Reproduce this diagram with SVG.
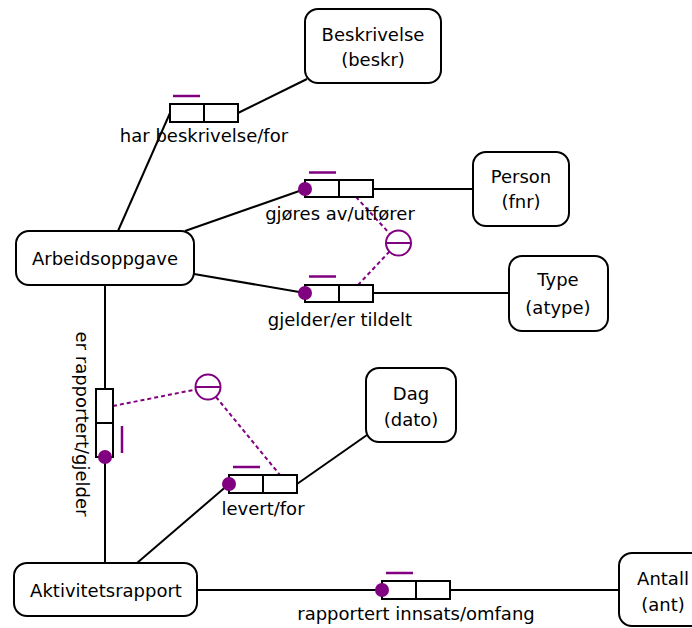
<svg xmlns="http://www.w3.org/2000/svg" width="692" height="628" viewBox="0 0 692 628">
<style>
.ent{fill:#fff;stroke:#000;stroke-width:2}
.role{fill:#fff;stroke:#000;stroke-width:2}
.t{font-family:"DejaVu Sans",Verdana,sans-serif;font-size:18px;fill:#000;text-anchor:middle}
.c{stroke:#000;stroke-width:2;fill:none}
.u{stroke:#800080;stroke-width:2.5;fill:none}
.x{stroke:#800080;stroke-width:2;fill:none;stroke-dasharray:4 3}
.dot{fill:#800080}
.ex{fill:#fff;stroke:#800080;stroke-width:2}
</style>
<rect width="692" height="628" fill="#fff"/>
<g id="connectors">
<line class="c" x1="118" y1="231" x2="170" y2="113"/>
<line class="c" x1="238" y1="113" x2="307" y2="79"/>
<line class="c" x1="185" y1="231" x2="305" y2="189"/>
<line class="c" x1="373" y1="189" x2="473" y2="189"/>
<line class="c" x1="194" y1="274" x2="305" y2="293"/>
<line class="c" x1="373" y1="293" x2="509" y2="293"/>
<line class="c" x1="105" y1="285" x2="105" y2="389"/>
<line class="c" x1="105" y1="457" x2="105" y2="563"/>
<line class="c" x1="137" y1="563" x2="229" y2="484"/>
<line class="c" x1="297" y1="484" x2="367" y2="435"/>
<line class="c" x1="197" y1="590" x2="382" y2="590"/>
<line class="c" x1="450" y1="590" x2="619" y2="590"/>
<line class="x" x1="356" y1="197" x2="390" y2="234"/>
<line class="x" x1="358" y1="285" x2="389.5" y2="251.5"/>
<line class="x" x1="113" y1="406" x2="195.7" y2="389.5"/>
<line class="x" x1="216" y1="397" x2="280" y2="475"/>
</g>
<g id="Beskrivelse"><rect class="ent" x="305" y="9" width="136" height="74" rx="13"/><text class="t" x="373" y="41">Beskrivelse</text><text class="t" x="373" y="66">(beskr)</text></g>
<g id="Arbeidsoppgave"><rect class="ent" x="16" y="231" width="178" height="54" rx="13"/><text class="t" x="105" y="265">Arbeidsoppgave</text></g>
<g id="Person"><rect class="ent" x="473" y="152" width="96" height="74" rx="13"/><text class="t" x="521" y="183">Person</text><text class="t" x="521" y="208">(fnr)</text></g>
<g id="Type"><rect class="ent" x="509" y="256" width="99" height="75" rx="13"/><text class="t" x="558" y="286">Type</text><text class="t" x="558" y="314">(atype)</text></g>
<g id="Dag"><rect class="ent" x="366" y="368" width="90" height="74" rx="13"/><text class="t" x="411" y="400">Dag</text><text class="t" x="411" y="426">(dato)</text></g>
<g id="Aktivitetsrapport"><rect class="ent" x="14" y="563" width="183" height="53" rx="13"/><text class="t" x="106" y="597">Aktivitetsrapport</text></g>
<g id="Antall"><rect class="ent" x="619" y="553" width="100" height="73" rx="13"/><text class="t" x="663" y="585">Antall</text><text class="t" x="663" y="611">(ant)</text></g>
<g id="fact-har-beskrivelse">
<rect class="role" x="170" y="104" width="34" height="18"/><rect class="role" x="204" y="104" width="34" height="18"/>
<line class="u" x1="173" y1="96" x2="200" y2="96"/>
<text class="t" x="204" y="142">har beskrivelse/for</text>
</g>
<g id="fact-gjores-av">
<rect class="role" x="305" y="180" width="34" height="17"/><rect class="role" x="339" y="180" width="34" height="17"/>
<line class="u" x1="309" y1="172.5" x2="336" y2="172.5"/>
<circle class="dot" cx="305" cy="189" r="7"/>
<text class="t" x="340" y="220">gjøres av/utfører</text>
</g>
<g id="fact-gjelder">
<rect class="role" x="305" y="285" width="34" height="17"/><rect class="role" x="339" y="285" width="34" height="17"/>
<line class="u" x1="309" y1="276.5" x2="336" y2="276.5"/>
<circle class="dot" cx="305" cy="293" r="7"/>
<text class="t" x="340" y="326">gjelder/er tildelt</text>
</g>
<g id="excl-1"><circle class="ex" cx="398.5" cy="243" r="12.5"/><line x1="386" y1="243" x2="411" y2="243" stroke="#800080" stroke-width="2"/></g>
<g id="fact-rapportert-gjelder">
<rect class="role" x="96" y="389" width="17" height="34"/><rect class="role" x="96" y="423" width="17" height="34"/>
<line class="u" x1="122" y1="426" x2="122" y2="453"/>
<circle class="dot" cx="105" cy="457" r="7"/>
<text class="t" transform="translate(76 424) rotate(90)">er rapportert/gjelder</text>
</g>
<g id="excl-2"><circle class="ex" cx="208" cy="387" r="12.5"/><line x1="195.5" y1="387" x2="220.5" y2="387" stroke="#800080" stroke-width="2"/></g>
<g id="fact-levert">
<rect class="role" x="229" y="475" width="34" height="18"/><rect class="role" x="263" y="475" width="34" height="18"/>
<line class="u" x1="233" y1="467" x2="260" y2="467"/>
<circle class="dot" cx="229" cy="484" r="7"/>
<text class="t" x="263" y="515">levert/for</text>
</g>
<g id="fact-innsats">
<rect class="role" x="382" y="581" width="34" height="18"/><rect class="role" x="416" y="581" width="34" height="18"/>
<line class="u" x1="386" y1="573" x2="413" y2="573"/>
<circle class="dot" cx="382" cy="590" r="7"/>
<text class="t" x="416" y="620">rapportert innsats/omfang</text>
</g>
</svg>
